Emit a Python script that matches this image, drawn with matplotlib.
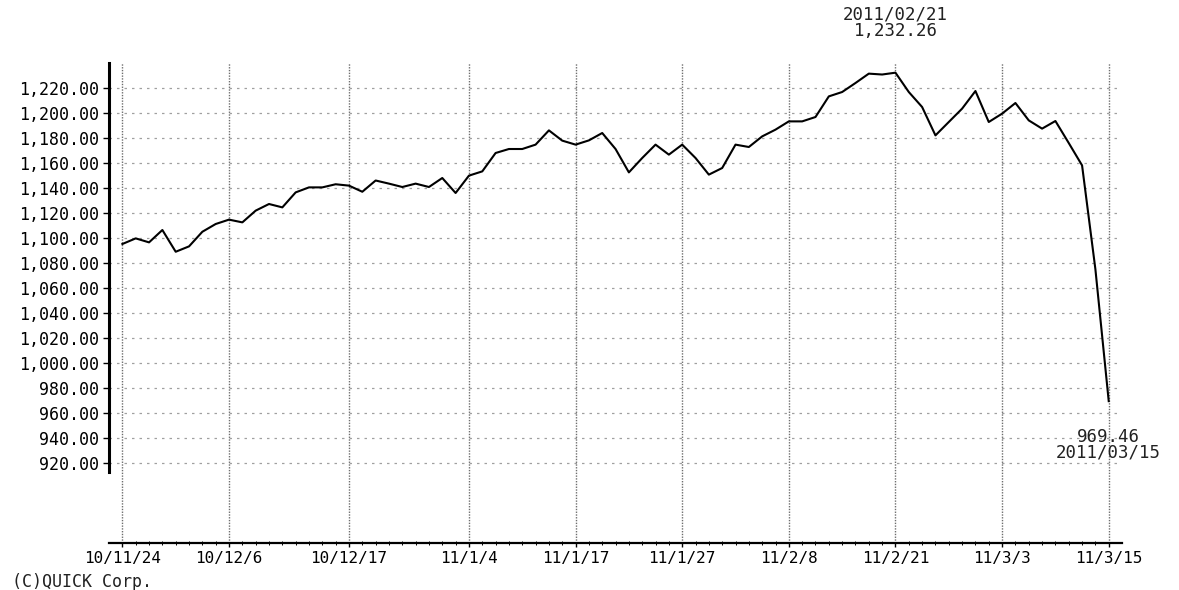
import matplotlib.pyplot as plt
import numpy as np

# Trading days shown on the chart
dates = [
    "2010/11/24", "2010/11/25", "2010/11/26", "2010/11/29", "2010/11/30",
    "2010/12/01", "2010/12/02", "2010/12/03", "2010/12/06", "2010/12/07",
    "2010/12/08", "2010/12/09", "2010/12/10", "2010/12/13", "2010/12/14",
    "2010/12/15", "2010/12/16", "2010/12/17", "2010/12/20", "2010/12/21",
    "2010/12/22", "2010/12/24", "2010/12/27", "2010/12/28", "2010/12/29",
    "2010/12/30", "2011/01/04", "2011/01/05", "2011/01/06", "2011/01/07",
    "2011/01/11", "2011/01/12", "2011/01/13", "2011/01/14", "2011/01/17",
    "2011/01/18", "2011/01/19", "2011/01/20", "2011/01/21", "2011/01/24",
    "2011/01/25", "2011/01/26", "2011/01/27", "2011/01/28", "2011/01/31",
    "2011/02/01", "2011/02/02", "2011/02/03", "2011/02/04", "2011/02/07",
    "2011/02/08", "2011/02/09", "2011/02/10", "2011/02/14", "2011/02/15",
    "2011/02/16", "2011/02/17", "2011/02/18", "2011/02/21", "2011/02/22",
    "2011/02/23", "2011/02/24", "2011/02/25", "2011/02/28", "2011/03/01",
    "2011/03/02", "2011/03/03", "2011/03/04", "2011/03/07", "2011/03/08",
    "2011/03/09", "2011/03/10", "2011/03/11", "2011/03/14", "2011/03/15",
]

closes = [
    1095.2, 1099.7, 1096.5, 1106.4, 1089.0, 1093.3, 1105.0, 1111.2, 1114.7, 1112.5,
    1121.9, 1127.2, 1124.5, 1136.5, 1140.5, 1140.5, 1143.0, 1141.9, 1137.0, 1146.0,
    1143.5, 1140.8, 1143.5, 1140.8, 1148.0, 1136.0, 1149.9, 1153.3, 1168.0, 1171.2,
    1171.2, 1174.7, 1186.1, 1177.9, 1174.7, 1178.1, 1184.0, 1171.2, 1152.5, 1164.0,
    1174.7, 1166.7, 1174.7, 1164.0, 1150.7, 1156.0, 1174.7, 1172.8, 1181.3, 1186.7,
    1193.3, 1193.3, 1196.8, 1213.3, 1216.8, 1224.0, 1231.5, 1230.8, 1232.26, 1216.8,
    1204.8, 1182.1, 1192.8, 1203.5, 1217.6, 1192.8, 1199.5, 1208.0, 1194.1, 1187.5,
    1193.6, 1176.0, 1158.1, 1075.0, 969.46,
]

tick_dates = ["2010/11/24", "2010/12/06", "2010/12/17", "2011/01/04", "2011/01/17",
              "2011/01/27", "2011/02/08", "2011/02/21", "2011/03/03", "2011/03/15"]
tick_labels = ["10/11/24", "10/12/6", "10/12/17", "11/1/4", "11/1/17",
               "11/1/27", "11/2/8", "11/2/21", "11/3/3", "11/3/15"]
yticks = np.arange(920, 1221, 20)

plt.rcParams['font.family'] = ['DejaVu Sans Mono', 'DejaVu Sans']

fig = plt.figure(figsize=(11.79, 5.90), dpi=100)
ax = fig.add_axes([0.0925, 0.0797, 0.8592, 0.8135])

x = np.arange(len(dates))
ax.plot(x, closes, color='black', linewidth=1.5, zorder=3)

ax.set_xlim(-1, len(dates))
ax.set_ylim(856, 1240)

# ticks
tick_pos = [dates.index(d) for d in tick_dates]
ax.set_xticks(tick_pos)
ax.set_xticklabels(tick_labels, fontsize=11.5)
ax.set_xticks(x, minor=True)
ax.set_yticks(yticks)
ax.set_yticklabels([f"{v:,.2f}" for v in yticks], fontsize=12)
ax.tick_params(axis='y', direction='out', length=4, width=1, pad=3)
ax.tick_params(axis='x', which='major', direction='out', length=3, width=1, pad=2.5)
ax.tick_params(axis='x', which='minor', direction='inout', length=3, width=0.7)

# grid
ax.grid(axis='y', color='#a0a0a0', linestyle=(0, (2, 4)), linewidth=0.9)
ax.grid(axis='x', color='#6e6e6e', linestyle=(0, (1, 1)), linewidth=1.0)

# spines
ax.spines['top'].set_visible(False)
ax.spines['right'].set_visible(False)
ax.spines['left'].set_linewidth(2.2)
ax.spines['left'].set_bounds(912.8, 1240)
ax.spines['bottom'].set_linewidth(1.6)

# high / last annotations
hi = int(np.argmax(closes))
ax.text(hi, 1278.8, dates[hi], ha='center', va='center', fontsize=12.5, color='#222222')
ax.text(hi, 1265.6, f"{closes[hi]:,.2f}", ha='center', va='center', fontsize=12.5, color='#222222')
last = len(closes) - 1
ax.text(last, 940.8, f"{closes[last]:,.2f}", ha='center', va='center', fontsize=12.5, color='#222222')
ax.text(last, 928.0, dates[last], ha='center', va='center', fontsize=12.5, color='#222222')

fig.text(0.01, 0.014, "(C)QUICK Corp.", ha='left', va='center', fontsize=12, color='#222222')

fig.savefig("out.png", dpi=100)
